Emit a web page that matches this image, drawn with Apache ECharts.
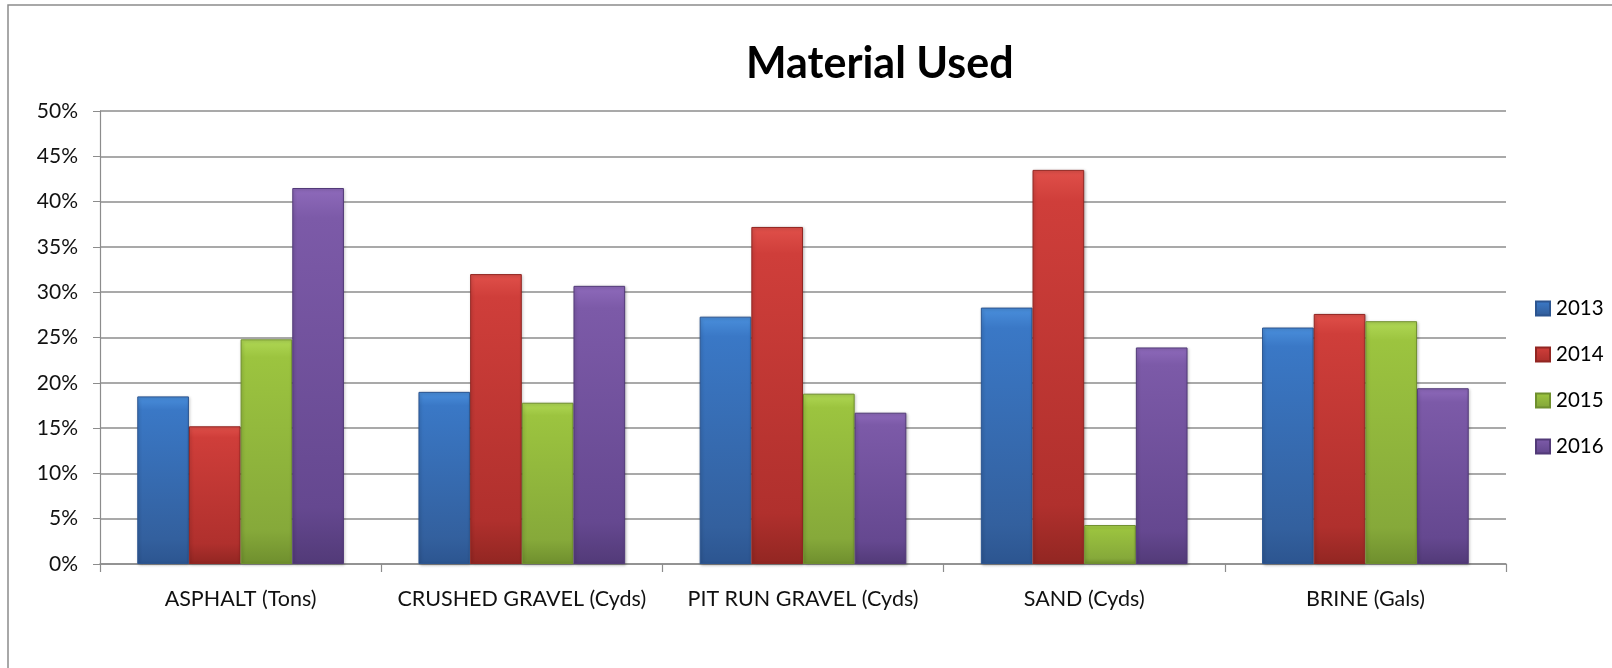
<!DOCTYPE html>
<html><head><meta charset="utf-8">
<script src="https://cdn.jsdelivr.net/npm/echarts@6/dist/echarts.min.js"></script>
<style>html,body{margin:0;padding:0;background:#fff}#c{width:1612px;height:668px}</style>
</head><body><div id="c"></div>
<script>
const categories = ['ASPHALT (Tons)', 'CRUSHED GRAVEL (Cyds)', 'PIT RUN GRAVEL (Cyds)', 'SAND (Cyds)', 'BRINE (Gals)'];
const seriesNames = ['2013', '2014', '2015', '2016'];
const v2013 = [18.5, 19.0, 27.3, 28.3, 26.1];
const v2014 = [15.2, 32.0, 37.2, 43.5, 27.6];
const v2015 = [24.8, 17.8, 18.8, 4.3, 26.8];
const v2016 = [41.5, 30.7, 16.7, 23.9, 19.4];
const yTicks = [0, 5, 10, 15, 20, 25, 30, 35, 40, 45, 50];

const FONT = 'Lato, "Liberation Sans", sans-serif';
const palette = [
  ['#4a8fdc', '#3a78c6', '#33609e', '#2c5590'],
  ['#e0504a', '#cf3e3a', '#b0302d', '#922622'],
  ['#b0d855', '#9cc43f', '#86a93a', '#6f8f2e'],
  ['#8e6abb', '#7c5aa8', '#654890', '#523a78']
];
const valuesList = [v2013, v2014, v2015, v2016];

function grad(p) {
  return new echarts.graphic.LinearGradient(0, 0, 0, 1, [
    {offset: 0, color: p[0]}, {offset: 0.08, color: p[1]}, {offset: 0.85, color: p[2]}, {offset: 1, color: p[3]}
  ]);
}

const series = seriesNames.map((name, i) => ({
  name: name,
  type: 'bar',
  data: valuesList[i],
  barGap: '0%',
  barCategoryGap: '26.5%',
  itemStyle: {
    color: grad(palette[i]),
    borderColor: palette[i][3],
    borderWidth: 1,
    shadowColor: 'rgba(0,0,0,0.25)',
    shadowBlur: 3,
    shadowOffsetX: 1,
    shadowOffsetY: 1
  }
}));

const chart = echarts.init(document.getElementById('c'), null, {renderer: 'canvas'});
chart.setOption({
  animation: false,
  backgroundColor: '#fff',
  title: {
    text: 'Material Used',
    left: 741,
    top: 38,
    textStyle: {fontFamily: FONT, fontSize: 43, fontWeight: 'bold', color: '#000'}
  },
  legend: {
    orient: 'vertical',
    left: 1530,
    top: 293,
    itemWidth: 14,
    itemHeight: 14,
    itemGap: 25,
    icon: 'rect',
    data: seriesNames,
    textStyle: {fontFamily: FONT, fontSize: 20.5, color: '#000', padding: [0, 0, 0, 1]}
  },
  grid: {left: 100, right: 106, top: 111, bottom: 104, containLabel: false},
  xAxis: {
    type: 'category',
    data: categories,
    axisLine: {show: true, lineStyle: {color: '#8c8c8c', width: 1.5}},
    axisTick: {show: true, length: 8, lineStyle: {color: '#8c8c8c', width: 1.2}},
    axisLabel: {margin: 24, fontFamily: FONT, fontSize: 21.5, color: '#111', interval: 0}
  },
  yAxis: {
    type: 'value',
    min: 0,
    max: 50,
    interval: 5,
    axisLine: {show: true, lineStyle: {color: '#8c8c8c', width: 1.2}},
    axisTick: {show: true, length: 7, lineStyle: {color: '#8c8c8c'}},
    splitLine: {show: true, lineStyle: {color: '#8c8c8c', width: 1.5}},
    axisLabel: {
      margin: 22, fontFamily: FONT, fontSize: 21, color: '#111',
      formatter: function (v) { return yTicks.indexOf(v) >= 0 ? v + '%' : ''; }
    }
  },
  graphic: [{
    type: 'rect',
    shape: {x: 8, y: 5, width: 1700, height: 700},
    style: {fill: 'none', stroke: '#8c8c8c', lineWidth: 1.5},
    silent: true,
    z: -1
  }],
  series: series
});
</script></body></html>
